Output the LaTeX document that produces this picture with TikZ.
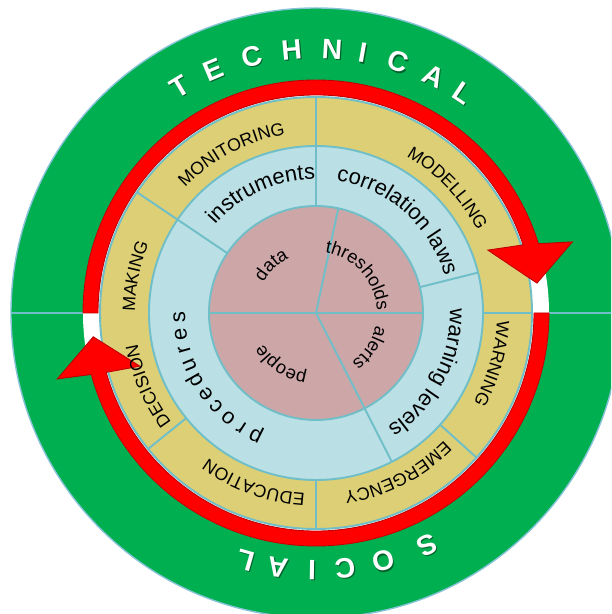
\documentclass[tikz,border=0pt]{standalone}
\usepackage{fontspec}
\setmainfont{Liberation Sans}
\usetikzlibrary{decorations.text}

\definecolor{ringgreen}{RGB}{0,176,80}
\definecolor{ringedge}{RGB}{135,195,215}
\definecolor{ringline}{RGB}{112,190,200}
\definecolor{ringyellow}{RGB}{220,207,118}
\definecolor{ringblue}{RGB}{186,224,229}
\definecolor{ringpink}{RGB}{205,166,168}
\definecolor{arrowred}{RGB}{255,0,0}
\definecolor{arrowdark}{RGB}{190,0,0}

\newcommand{\capsfont}{\fontsize{10.1}{12}\selectfont}
\newcommand{\bluefont}{\fontsize{12.5}{15}\selectfont}
\newcommand{\pinkfont}{\fontsize{10.4}{12}\selectfont}
\newcommand{\bigfont}{\fontsize{16}{19}\selectfont\bfseries}

\begin{document}
\begin{tikzpicture}[
        line/.style={draw=ringline, line width=1.1pt},
        arclabel/.style={decorate, decoration={text along path, text align=center, text={#1}}},
        redarrow/.style={fill=arrowred, draw=arrowdark, line width=0.5pt},
        bigletter/.style={text=white, font=\bigfont, anchor=base, inner sep=0pt},
        procletter/.style={font=\bluefont, anchor=base, inner sep=0pt}
    ]
        \useasboundingbox (-6.32,-6.02) rectangle (5.90,6.26);
        \clip (-6.32,-6.02) rectangle (5.90,6.26);

        % Outer green ring
        \draw[fill=ringgreen, draw=ringedge, line width=0.8pt] (0,0) circle (6.10);
        \draw[line] (-6.10,0) -- (6.10,0);

        % Track of the arrows and the rings
        \fill[white] (0,0) circle (4.66);
        \draw[line, fill=ringyellow] (0,0) circle (4.32);
        \draw[line, fill=ringblue] (0,0) circle (3.34);
        \draw[line, fill=ringpink] (0,0) circle (2.14);

        % Dividers
        \foreach \a/\r/\R in {146/2.14/4.32, 90/2.14/4.32, 0/3.34/4.32, -42/3.34/4.32,
                -90/3.34/4.32, 219/3.34/4.32, 14/2.14/3.34, -63/0/3.34,
                78/0/2.14, 180/0/2.14, 0/0/2.14}
            \draw[line] (\a:\r) -- (\a:\R);

        % Red arrows
        \draw[redarrow] (180:4.66) arc[start angle=180, end angle=17.3, radius=4.66]
            -- (15.5:5.32) -- (7.7:4.46) -- (20.1:3.66) -- (18.2:4.36)
            arc[start angle=18.2, end angle=180, radius=4.36] -- cycle;
        \draw[redarrow] (0:4.66) arc[start angle=0, end angle=-164.7, radius=4.66]
            -- (194.3:5.34) -- (186.1:4.48) -- (196.8:3.68) -- (-164.2:4.36)
            arc[start angle=-164.2, end angle=0, radius=4.36] -- cycle;

        % Yellow ring
        \path[arclabel={|\capsfont|MONITORING}] (160:3.62) arc[start angle=160, end angle=76, radius=3.62];
        \path[arclabel={|\capsfont|MODELLING}] (88:3.62) arc[start angle=88, end angle=-1, radius=3.62];
        \path[arclabel={|\capsfont|WARNING}] (20:3.62) arc[start angle=20, end angle=-52, radius=3.62];
        \path[arclabel={|\capsfont|EMERGENCY}] (-20:3.62) arc[start angle=-20, end angle=-106, radius=3.62];
        \path[arclabel={|\capsfont|EDUCATION}] (293:3.62) arc[start angle=293, end angle=207, radius=3.62];
        \path[arclabel={|\capsfont|DECISION}] (243:3.62) arc[start angle=243, end angle=164, radius=3.62];
        \path[arclabel={|\capsfont|MAKING}] (200:3.62) arc[start angle=200, end angle=137, radius=3.62];

        % Blue ring
        \path[arclabel={|\bluefont|instruments}] (164.6:2.68) arc[start angle=164.6, end angle=64.6, radius=2.68];
        \path[arclabel={|\bluefont|correlation laws}] (108.6:2.68) arc[start angle=108.6, end angle=-11.4, radius=2.68];
        \path[arclabel={|\bluefont|warning levels}] (32:2.68) arc[start angle=32, end angle=-88, radius=2.68];
        \foreach \ch [count=\i] in {p,r,o,c,e,d,u,r,e,s}
            \node[procletter, rotate={243.8-(\i-1)*6.87-90}] (proc-\i) at ({243.8-(\i-1)*6.87}:2.62) {\ch};

        % Pink core
        \path[arclabel={|\pinkfont|data}] (193:1.22) arc[start angle=193, end angle=73, radius=1.22];
        \path[arclabel={|\pinkfont|thresholds}] (101.8:1.22) arc[start angle=101.8, end angle=-18.2, radius=1.22];
        \path[arclabel={|\pinkfont|alerts}] (27:1.22) arc[start angle=27, end angle=-93, radius=1.22];
        \path[arclabel={|\pinkfont|people}] (296:1.22) arc[start angle=296, end angle=176, radius=1.22];

        % TECHNICAL and SOCIAL
        \foreach \ch/\a [count=\i] in {T/121, E/112.9, C/104, H/95.3, N/86.5, I/79.8, C/71.9, A/63.5, L/56.3} {
            \node[bigletter, text=black!45!ringgreen, xshift=0.7pt, yshift=-0.7pt, rotate=\a-90] (techshadow-\i) at (\a:5.09) {\ch};
            \node[bigletter, rotate=\a-90] (tech-\i) at (\a:5.09) {\ch};
        }
        \foreach \ch/\a [count=\i] in {S/-64.4, O/-74.8, C/-83.5, I/-90.9, A/-98.6, L/-106} {
            \node[bigletter, text=black!45!ringgreen, xshift=0.7pt, yshift=-0.7pt, rotate=\a-90] (socshadow-\i) at (\a:4.95) {\ch};
            \node[bigletter, rotate=\a-90] (soc-\i) at (\a:4.95) {\ch};
        }
\end{tikzpicture}
\end{document}
